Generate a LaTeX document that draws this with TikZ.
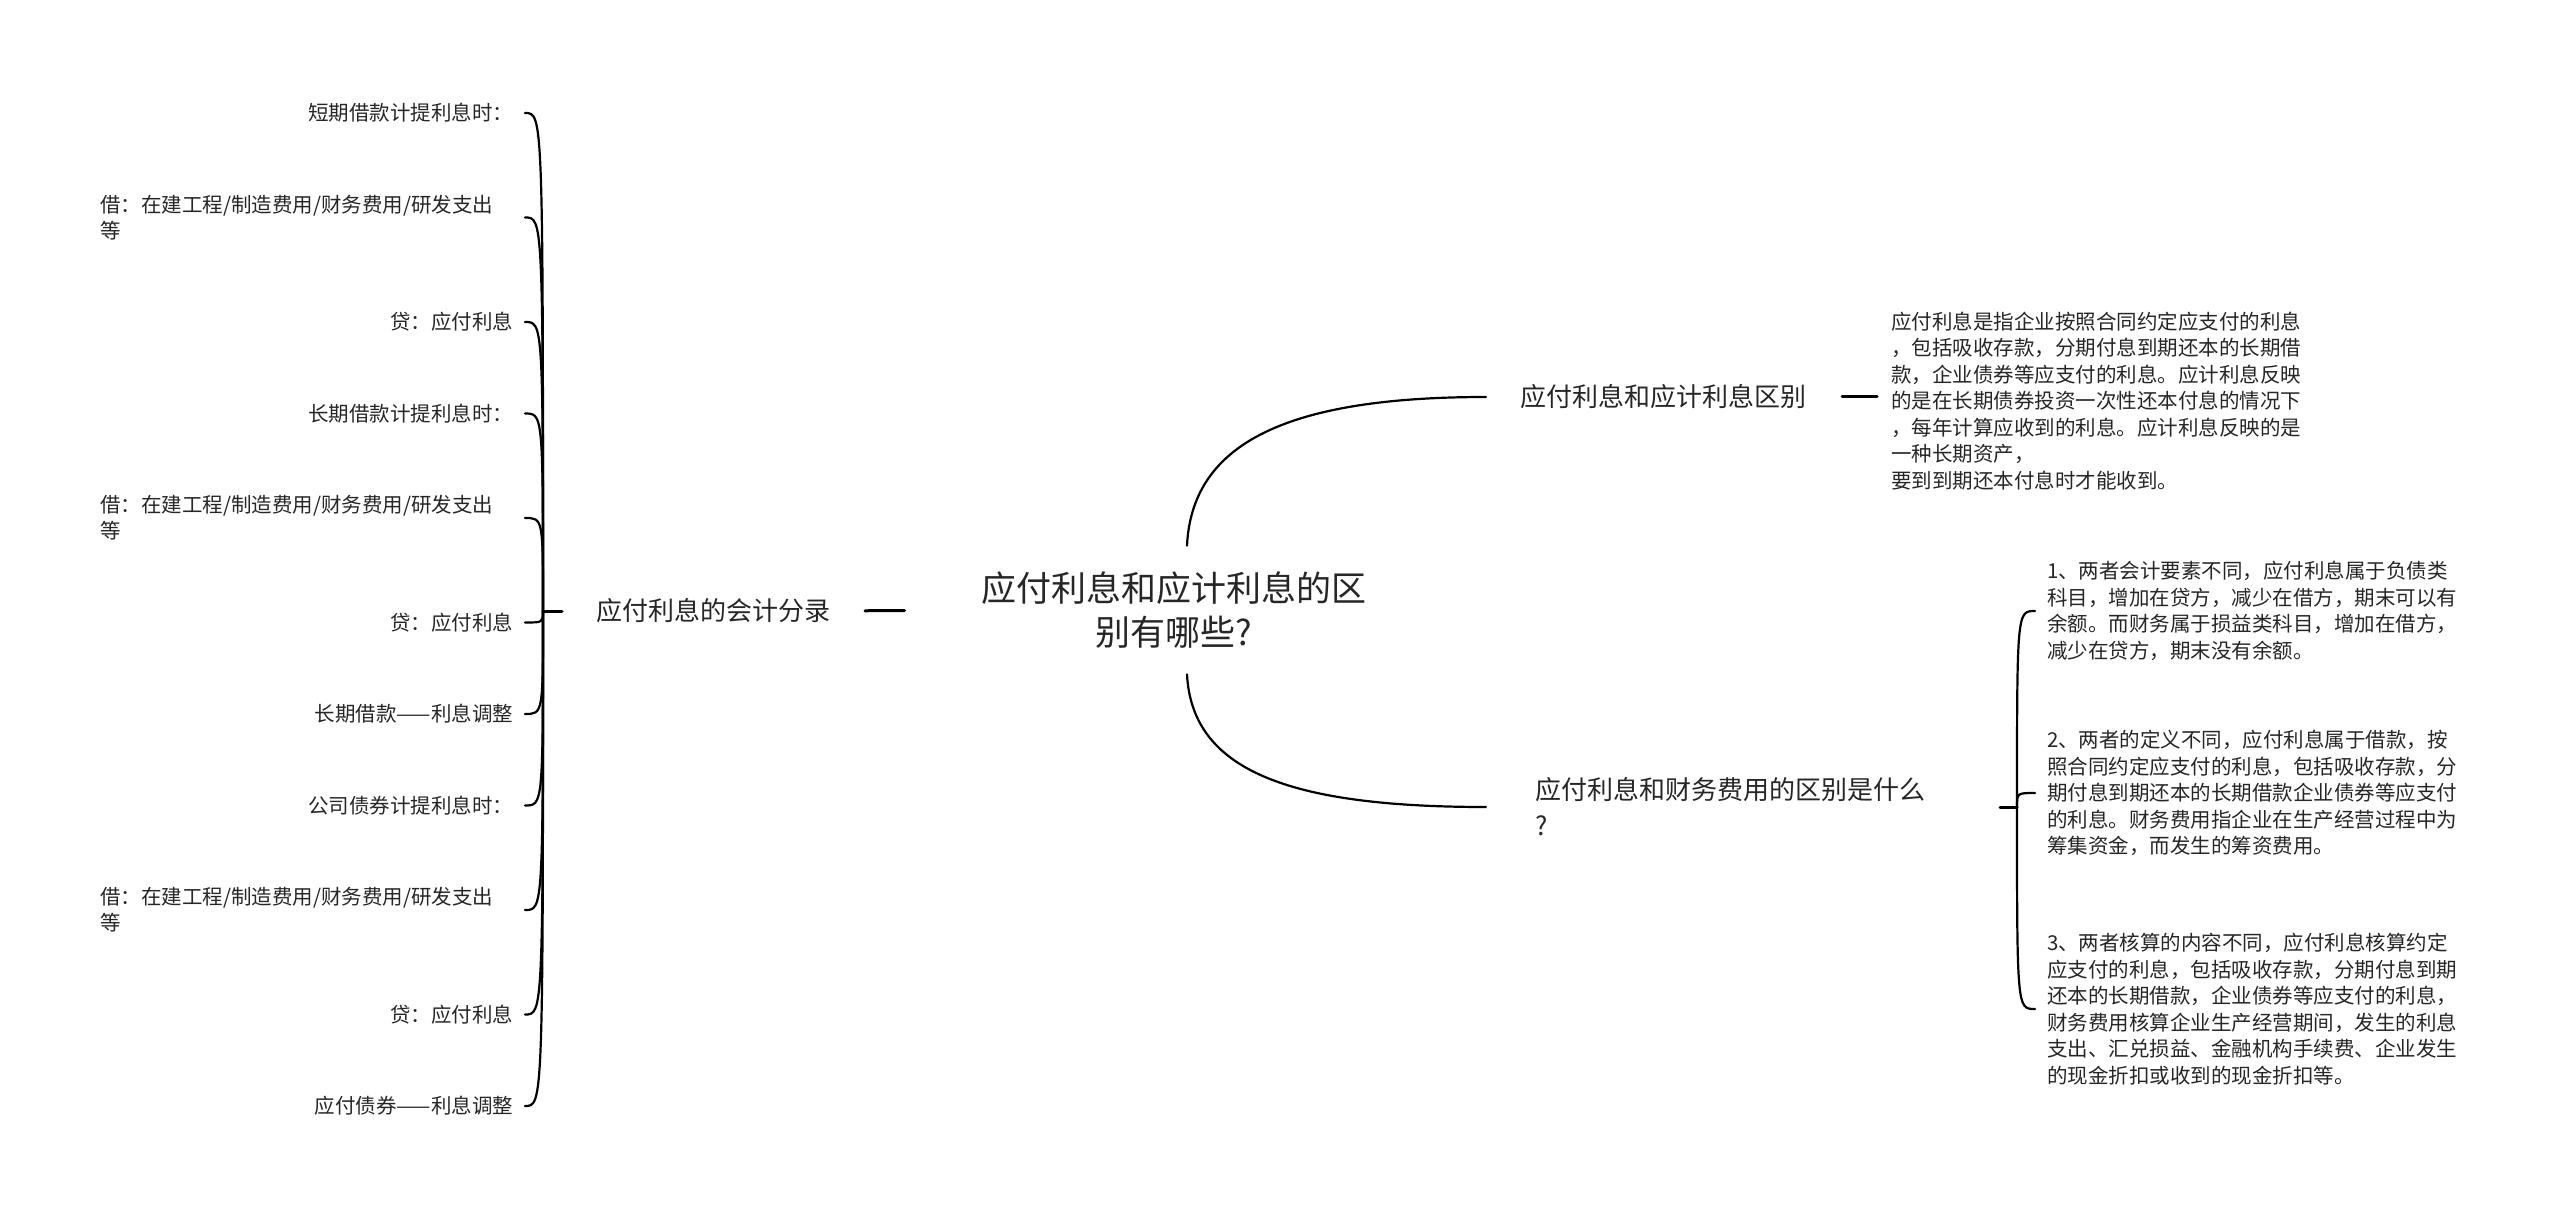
\documentclass[tikz,border=0pt]{standalone}
\usepackage{fontspec}
\setmainfont{Noto Sans CJK SC}
\begin{document}
\begin{tikzpicture}[x=1pt, y=1pt, line cap=round,
	every node/.style={inner sep=0pt, outer sep=0pt, text=black!85},
	topic/.style={font=\fontsize{35}{44}\selectfont, align=center, inner ysep=26pt},
	branch/.style={font=\fontsize{26}{36}\selectfont, align=left},
	leaf/.style={font=\fontsize{20.5}{26}\selectfont, anchor=east},
	para/.style={font=\fontsize{20.5}{26.5}\selectfont, align=left, anchor=west},
	link/.style={line width=2.2pt},
	stub/.style={line width=3pt}]
	
	\fill[white] (0,0) rectangle (2560,-1222);
	\useasboundingbox (0,0) rectangle (2560,-1222);
	
	% 中心主题
	\node[topic] (root) at (1174,-610) {应付利息和应计利息的区\\别有哪些?};
	
	% 左侧：会计分录
	\node[branch] (acct) at (713,-611) {应付利息的会计分录};
	\draw[stub, shorten <=77pt, shorten >=35pt] (root.west) -- (acct.east);
	\coordinate (lb) at (543,-611);
	\draw[stub, shorten <=34pt] (acct.west) -- (lb);
	
	\node[leaf] (l1) at (513,-113) {短期借款计提利息时：};
	\node[leaf, text width=413pt, align=left] (l2) at (513,-217.5) {借：在建工程/制造费用/财务费用/研发支出\\等};
	\node[leaf] (l3) at (513,-322) {贷：应付利息};
	\node[leaf] (l4) at (513,-413.5) {长期借款计提利息时：};
	\node[leaf, text width=413pt, align=left] (l5) at (513,-518) {借：在建工程/制造费用/财务费用/研发支出\\等};
	\node[leaf] (l6) at (513,-622.5) {贷：应付利息};
	\node[leaf] (l7) at (513,-714) {长期借款——利息调整};
	\node[leaf] (l8) at (513,-805.5) {公司债券计提利息时：};
	\node[leaf, text width=413pt, align=left] (l9) at (513,-910) {借：在建工程/制造费用/财务费用/研发支出\\等};
	\node[leaf] (l10) at (513,-1014.5) {贷：应付利息};
	\node[leaf] (l11) at (513,-1106) {应付债券——利息调整};
	
	\draw[link] (lb) .. controls (lb |- l1.east) and (lb |- l1.east) .. ([xshift=12pt]l1.east);
	\draw[link] (lb) .. controls (lb |- l2.east) and (lb |- l2.east) .. ([xshift=12pt]l2.east);
	\draw[link] (lb) .. controls (lb |- l3.east) and (lb |- l3.east) .. ([xshift=12pt]l3.east);
	\draw[link] (lb) .. controls (lb |- l4.east) and (lb |- l4.east) .. ([xshift=12pt]l4.east);
	\draw[link] (lb) .. controls (lb |- l5.east) and (lb |- l5.east) .. ([xshift=12pt]l5.east);
	\draw[link] (lb) .. controls (lb |- l6.east) and (lb |- l6.east) .. ([xshift=12pt]l6.east);
	\draw[link] (lb) .. controls (lb |- l7.east) and (lb |- l7.east) .. ([xshift=12pt]l7.east);
	\draw[link] (lb) .. controls (lb |- l8.east) and (lb |- l8.east) .. ([xshift=12pt]l8.east);
	\draw[link] (lb) .. controls (lb |- l9.east) and (lb |- l9.east) .. ([xshift=12pt]l9.east);
	\draw[link] (lb) .. controls (lb |- l10.east) and (lb |- l10.east) .. ([xshift=12pt]l10.east);
	\draw[link] (lb) .. controls (lb |- l11.east) and (lb |- l11.east) .. ([xshift=12pt]l11.east);
	
	% 右上：区别
	\node[branch] (diff) at (1663,-397) {应付利息和应计利息区别};
	\draw[link] ([xshift=13pt]root.north) .. controls +(5,104) and +(-196,0) .. ([xshift=-34pt]diff.west);
	\node[para] (note1) at (1891,-401) {应付利息是指企业按照合同约定应支付的利息\\，包括吸收存款，分期付息到期还本的长期借\\款，企业债券等应支付的利息。应计利息反映\\的是在长期债券投资一次性还本付息的情况下\\，每年计算应收到的利息。应计利息反映的是\\一种长期资产，\\要到到期还本付息时才能收到。};
	\draw[stub, shorten <=36pt, shorten >=14pt] (diff.east) -- (diff.east -| note1.west);
	
	% 右下：财务费用
	\node[branch, anchor=west] (fin) at (1535,-807) {应付利息和财务费用的区别是什么\\?};
	\draw[link] ([xshift=13pt]root.south) .. controls +(5,-95) and +(-200,0) .. ([xshift=-49pt]fin.west);
	\coordinate (rb) at (2017,-807);
	\draw[stub, shorten <=75pt] (fin.east) -- (rb);
	
	\node[para] (r1) at (2047,-611) {1、两者会计要素不同，应付利息属于负债类\\科目，增加在贷方，减少在借方，期末可以有\\余额。而财务属于损益类科目，增加在借方，\\减少在贷方，期末没有余额。};
	\node[para] (r2) at (2047,-793) {2、两者的定义不同，应付利息属于借款，按\\照合同约定应支付的利息，包括吸收存款，分\\期付息到期还本的长期借款企业债券等应支付\\的利息。财务费用指企业在生产经营过程中为\\筹集资金，而发生的筹资费用。};
	\node[para] (r3) at (2047,-1009) {3、两者核算的内容不同，应付利息核算约定\\应支付的利息，包括吸收存款，分期付息到期\\还本的长期借款，企业债券等应支付的利息，\\财务费用核算企业生产经营期间，发生的利息\\支出、汇兑损益、金融机构手续费、企业发生\\的现金折扣或收到的现金折扣等。};
	
	\draw[link] (rb) .. controls (rb |- r1.west) and (rb |- r1.west) .. ([xshift=-12pt]r1.west);
	\draw[link] (rb) .. controls (rb |- r2.west) and (rb |- r2.west) .. ([xshift=-12pt]r2.west);
	\draw[link] (rb) .. controls (rb |- r3.west) and (rb |- r3.west) .. ([xshift=-12pt]r3.west);
	
\end{tikzpicture}
\end{document}
